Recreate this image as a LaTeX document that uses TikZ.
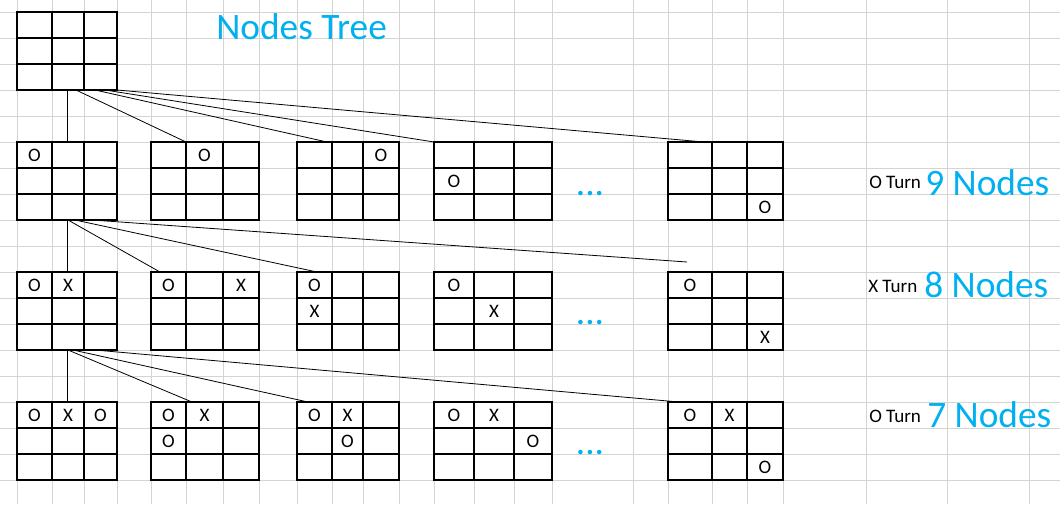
\documentclass[tikz,border=0pt]{standalone}
\usepackage{fontspec}
\setmainfont{Carlito}
\usetikzlibrary{calc}
\definecolor{cellgrid}{RGB}{212,212,212}
\definecolor{titleblue}{RGB}{0,176,240}

\newcommand{\tttboard}[7]{%
  \node[board, minimum width={(#5-#2)*0.75pt}] (#1) at ({(#2+#5)/2},#6+39) {};
  \draw[cellline] (#3,#6) -- (#3,#6+78) (#4,#6) -- (#4,#6+78) (#2,#6+26) -- (#5,#6+26) (#2,#6+52) -- (#5,#6+52);
  \if\relax\detokenize{#7}\relax\else
  \foreach \c/\r/\m in {#7} {
    \pgfmathsetmacro{\cx}{\c==1 ? (#2+#3)/2 : (\c==2 ? (#3+#4)/2 : (#4+#5)/2)}
    \node[cellmark] (#1-\c\r) at (\cx,#6+26*\r-13) {\m};
  }\fi
}

\begin{document}
\begin{tikzpicture}[x=0.75pt, y=-0.75pt,
  gridline/.style={cellgrid, line width=0.75pt},
  board/.style={rectangle, draw=black, line width=0.9pt, inner sep=0pt, outer sep=0pt, minimum height=58.5pt},
  cellline/.style={black, line width=0.9pt},
  cellmark/.style={font=\fontsize{14.3}{16}\selectfont, inner sep=0pt},
  link/.style={black, line width=0.6pt},
  bigtext/.style={titleblue, font=\fontsize{28}{32}\selectfont, inner sep=0pt, anchor=base west},
  turntext/.style={font=\fontsize{14.3}{16}\selectfont, inner sep=0pt, anchor=base west}
]
\useasboundingbox (0,0) rectangle (1060,504);
\fill[white] (0,0) rectangle (1060,504);
\foreach \x in {17,52,84,117,151,186,223,259,297,332,363,399,434,474,514,552,633,668,712,747,783,866,947,1029}
  \draw[gridline] (\x,0) -- (\x,504);
\foreach \y in {12,38,...,480}
  \draw[gridline] (0,\y) -- (1060,\y);

\tttboard{t0}{17}{52}{84}{117}{12}{}
\tttboard{b11}{17}{52}{84}{117}{142}{1/1/O}
\tttboard{b12}{151}{186}{223}{259}{142}{2/1/O}
\tttboard{b13}{297}{332}{363}{399}{142}{3/1/O}
\tttboard{b14}{434}{474}{514}{552}{142}{1/2/O}
\tttboard{b15}{668}{712}{747}{783}{142}{3/3/O}
\tttboard{b21}{17}{52}{84}{117}{272}{1/1/O, 2/1/X}
\tttboard{b22}{151}{186}{223}{259}{272}{1/1/O, 3/1/X}
\tttboard{b23}{297}{332}{363}{399}{272}{1/1/O, 1/2/X}
\tttboard{b24}{434}{474}{514}{552}{272}{1/1/O, 2/2/X}
\tttboard{b25}{668}{712}{747}{783}{272}{1/1/O, 3/3/X}
\tttboard{b31}{17}{52}{84}{117}{402}{1/1/O, 2/1/X, 3/1/O}
\tttboard{b32}{151}{186}{223}{259}{402}{1/1/O, 2/1/X, 1/2/O}
\tttboard{b33}{297}{332}{363}{399}{402}{1/1/O, 2/1/X, 2/2/O}
\tttboard{b34}{434}{474}{514}{552}{402}{1/1/O, 2/1/X, 3/2/O}
\tttboard{b35}{668}{712}{747}{783}{402}{1/1/O, 2/1/X, 3/3/O}

\draw[link] (t0.south) -- (b11.north);
\draw[link] ($(t0.south west)+(59,0)$) -- ($(b12.north west)+(35,0)$);
\draw[link] ($(t0.south west)+(78,0)$) -- ($(b13.north west)+(30,0)$);
\draw[link] ($(t0.south west)+(88,0)$) -- (b14.north west);
\draw[link] (t0.south east) -- ($(b15.north west)+(36,0)$);

\coordinate (e2) at (687,262);
\draw[link] (b11.south) -- (b21.north);
\draw[link] ($(b11.south west)+(51,0)$) -- ($(b22.north west)+(9,0)$);
\draw[link] ($(b11.south west)+(58,0)$) -- ($(b23.north west)+(20,0)$);
\draw[link] ($(b11.south west)+(75,0)$) -- (e2);

\draw[link] (b21.south) -- (b31.north);
\draw[link] ($(b21.south west)+(51,0)$) -- ($(b32.north west)+(41,0)$);
\draw[link] ($(b21.south west)+(56,0)$) -- ($(b33.north west)+(11,0)$);
\draw[link] ($(b21.south west)+(78,0)$) -- ($(b35.north west)+(11,0)$);

\node[bigtext] (title) at (216,39.5) {Nodes Tree};
\node[bigtext, anchor=base] (dots1) at (590,195) {...};
\node[bigtext, anchor=base] (dots2) at (590,324) {...};
\node[bigtext, anchor=base] (dots3) at (590,454) {...};
\node[turntext] (turn1) at (869,188.5) {O Turn};
\node[bigtext] (count1) at (925,195) {9 Nodes};
\node[turntext] (turn2) at (868,292) {X Turn};
\node[bigtext] (count2) at (924,297) {8 Nodes};
\node[turntext] (turn3) at (869,422) {O Turn};
\node[bigtext] (count3) at (927,427) {7 Nodes};
\end{tikzpicture}
\end{document}
